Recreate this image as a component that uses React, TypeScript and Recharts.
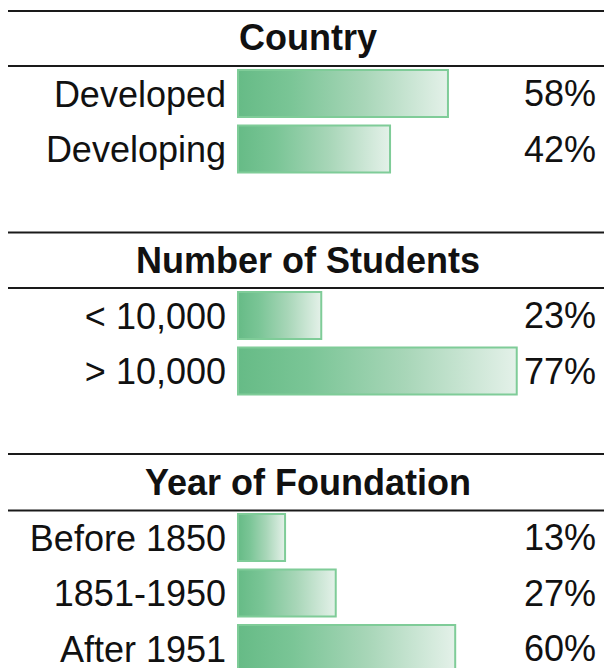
import React from "react";
import { BarChart, Bar, XAxis, YAxis, LabelList } from "recharts";

const countryLabels = ["Developed", "Developing"];
const countryValues = [58, 42];
const studentLabels = ["< 10,000", "> 10,000"];
const studentValues = [23, 77];
const foundationLabels = ["Before 1850", "1851-1950", "After 1951"];
const foundationValues = [13, 27, 60];
const sectionTitles = ["Country", "Number of Students", "Year of Foundation"];

const FONT = "'Liberation Sans', Arial, sans-serif";
const FS = 36;

const build = (labels: string[], values: number[]) =>
  labels.map((l, i) => ({ label: l, value: values[i] }));

const ValueLabel = (props: any) => {
  const vb = props.viewBox || props;
  const y = (vb.y ?? props.y) + (vb.height ?? props.height) / 2;
  return (
    <text
      x={596}
      y={y}
      dy="0.36em"
      textAnchor="end"
      fontFamily={FONT}
      fontSize={FS}
      fill="#111"
    >
      {props.value}%
    </text>
  );
};

const Section = ({ data, top, id }: { data: any[]; top: number; id: string }) => {
  const height = data.length * 55.5;
  return (
    <div style={{ position: "absolute", left: 0, top, width: 604, height }}>
      <BarChart
        width={604}
        height={height}
        data={data}
        layout="vertical"
        margin={{ top: 0, right: 4, bottom: 0, left: 0 }}
      >
        <defs>
          <linearGradient id={id} x1="0" y1="0" x2="1" y2="0">
            <stop offset="0%" stopColor="#66bb86" />
            <stop offset="25%" stopColor="#7ac596" />
            <stop offset="60%" stopColor="#a8d6b8" />
            <stop offset="100%" stopColor="#e4f1e9" />
          </linearGradient>
        </defs>
        <XAxis type="number" domain={[0, 100]} hide />
        <YAxis
          type="category"
          dataKey="label"
          width={238}
          axisLine={false}
          tickLine={false}
          tickMargin={6}
          interval={0}
          tick={{ fontFamily: FONT, fontSize: FS, fill: "#111" }}
        />
        <Bar
          dataKey="value"
          barSize={47}
          fill={`url(#${id})`}
          stroke="#7fcc98"
          strokeWidth={2}
          isAnimationActive={false}
        >
          <LabelList dataKey="value" content={<ValueLabel />} />
        </Bar>
      </BarChart>
    </div>
  );
};

const lines = [11, 66, 232.5, 288, 454, 510.5];
const headers = [
  { y: 50, text: sectionTitles[0] },
  { y: 273, text: sectionTitles[1] },
  { y: 495, text: sectionTitles[2] },
];

export default function App() {
  return (
    <div
      style={{
        position: "absolute",
        left: 0,
        top: 0,
        width: 604,
        height: 668,
        overflow: "hidden",
        background: "#fff",
      }}
    >
      <svg
        width={604}
        height={668}
        style={{ position: "absolute", left: 0, top: 0 }}
      >
        {lines.map((y, i) => (
          <line key={i} x1={8} x2={604} y1={y} y2={y} stroke="#1a1a1a" strokeWidth={2.2} />
        ))}
        {headers.map((h, i) => (
          <text
            key={i}
            x={308}
            y={h.y}
            textAnchor="middle"
            fontFamily={FONT}
            fontWeight="bold"
            fontSize={FS}
            fill="#111"
          >
            {h.text}
          </text>
        ))}
      </svg>
      <Section data={build(countryLabels, countryValues)} top={65.5} id="g1" />
      <Section data={build(studentLabels, studentValues)} top={287.5} id="g2" />
      <Section data={build(foundationLabels, foundationValues)} top={509.5} id="g3" />
    </div>
  );
}
